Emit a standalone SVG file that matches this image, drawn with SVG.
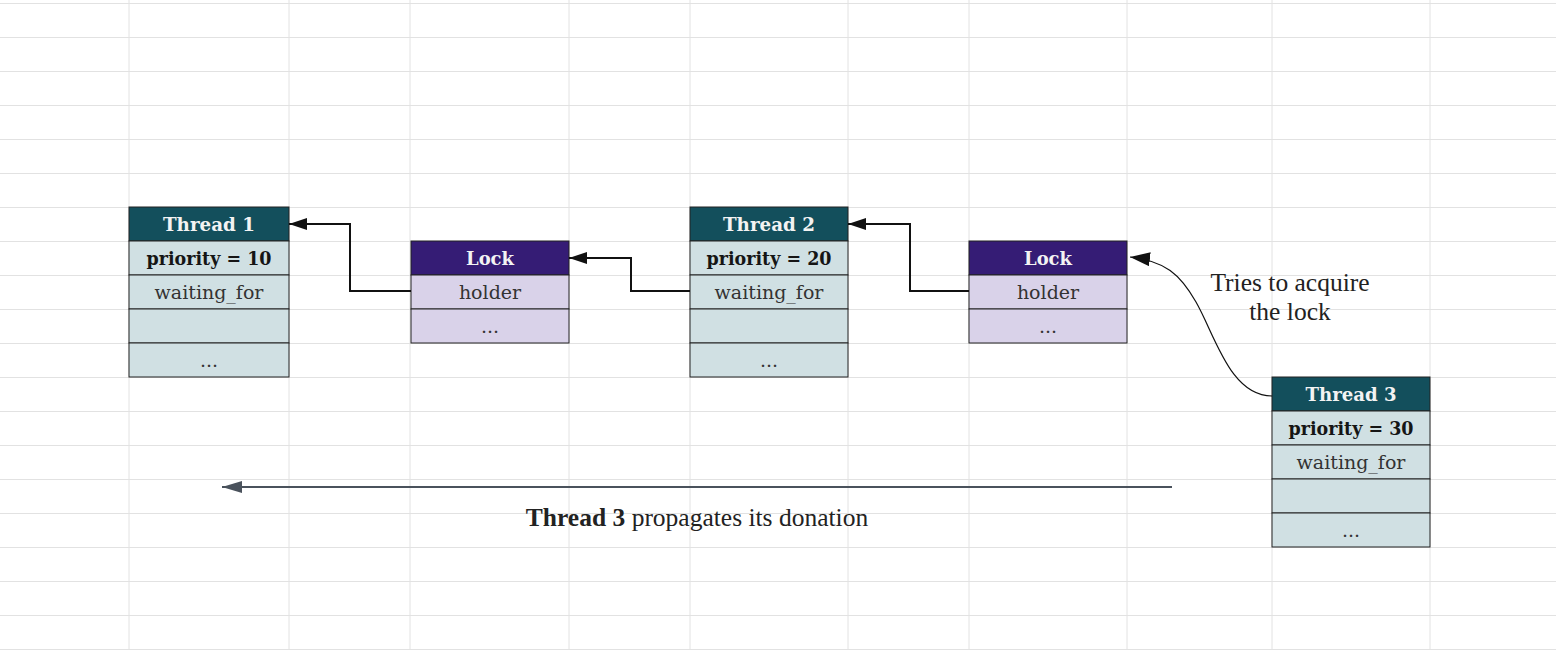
<svg xmlns="http://www.w3.org/2000/svg" width="1556" height="650" viewBox="0 0 1556 650">
<style>
.grid line{stroke:#e2e2e2;stroke-width:1}
.th{fill:#134f5c;stroke:#222;stroke-width:1}
.tr{fill:#d0e0e3;stroke:#222;stroke-width:1}
.lh{fill:#351c75;stroke:#222;stroke-width:1}
.lr{fill:#d9d2e9;stroke:#222;stroke-width:1}
.hd{font-family:"DejaVu Serif",serif;font-weight:bold;font-size:18px;fill:#f3f3f3;text-anchor:middle}
.pr{font-family:"DejaVu Serif",serif;font-weight:bold;font-size:18px;fill:#151515;text-anchor:middle}
.tx{font-family:"DejaVu Serif",serif;font-size:19px;fill:#333;text-anchor:middle}
.gar{font-family:"Liberation Serif",serif;font-size:25.5px;fill:#222;text-anchor:middle}
.conn{fill:none;stroke:#111;stroke-width:2}
</style>
<defs>
<marker id="ah" viewBox="0 0 18 12" refX="18" refY="6" markerWidth="18" markerHeight="12" markerUnits="userSpaceOnUse" orient="auto"><path d="M0,0 L18,6 L0,12 z" fill="#111"/></marker>
<marker id="ahc" viewBox="0 0 20 14" refX="20" refY="7" markerWidth="20" markerHeight="14" markerUnits="userSpaceOnUse" orient="auto"><path d="M0,0 L20,7 L0,14 z" fill="#111"/></marker>
<marker id="ahg" viewBox="0 0 20 12" refX="20" refY="6" markerWidth="20" markerHeight="12" markerUnits="userSpaceOnUse" orient="auto"><path d="M0,0 L20,6 L0,12 z" fill="#4a525c"/></marker>
</defs>
<rect width="1556" height="650" fill="#fff"/>
<g class="grid">
<line x1="0" y1="3.5" x2="1556" y2="3.5"/><line x1="0" y1="37.5" x2="1556" y2="37.5"/><line x1="0" y1="71.5" x2="1556" y2="71.5"/><line x1="0" y1="105.5" x2="1556" y2="105.5"/><line x1="0" y1="139.5" x2="1556" y2="139.5"/><line x1="0" y1="173.5" x2="1556" y2="173.5"/><line x1="0" y1="207.5" x2="1556" y2="207.5"/><line x1="0" y1="241.5" x2="1556" y2="241.5"/><line x1="0" y1="275.5" x2="1556" y2="275.5"/><line x1="0" y1="309.5" x2="1556" y2="309.5"/><line x1="0" y1="343.5" x2="1556" y2="343.5"/><line x1="0" y1="377.5" x2="1556" y2="377.5"/><line x1="0" y1="411.5" x2="1556" y2="411.5"/><line x1="0" y1="445.5" x2="1556" y2="445.5"/><line x1="0" y1="479.5" x2="1556" y2="479.5"/><line x1="0" y1="513.5" x2="1556" y2="513.5"/><line x1="0" y1="547.5" x2="1556" y2="547.5"/><line x1="0" y1="581.5" x2="1556" y2="581.5"/><line x1="0" y1="615.5" x2="1556" y2="615.5"/><line x1="0" y1="649.5" x2="1556" y2="649.5"/>
<line x1="129" y1="0" x2="129" y2="650"/><line x1="289" y1="0" x2="289" y2="650"/><line x1="410" y1="0" x2="410" y2="650"/><line x1="569" y1="0" x2="569" y2="650"/><line x1="690" y1="0" x2="690" y2="650"/><line x1="848" y1="0" x2="848" y2="650"/><line x1="969" y1="0" x2="969" y2="650"/><line x1="1127" y1="0" x2="1127" y2="650"/><line x1="1272" y1="0" x2="1272" y2="650"/><line x1="1430" y1="0" x2="1430" y2="650"/>
</g>
<g id="thread1">
<rect class="th" x="129" y="207" width="160" height="34"/>
<rect class="tr" x="129" y="241" width="160" height="34"/>
<rect class="tr" x="129" y="275" width="160" height="34"/>
<rect class="tr" x="129" y="309" width="160" height="34"/>
<rect class="tr" x="129" y="343" width="160" height="34"/>
<text class="hd" x="209" y="231" textLength="92" lengthAdjust="spacingAndGlyphs">Thread 1</text>
<text class="pr" x="209" y="265" textLength="125" lengthAdjust="spacingAndGlyphs">priority = 10</text>
<text class="tx" x="209" y="299">waiting_for</text>
<text class="tx" x="209" y="367">...</text>
</g>
<g id="lock1">
<rect class="lh" x="411" y="241" width="158" height="34"/>
<rect class="lr" x="411" y="275" width="158" height="34"/>
<rect class="lr" x="411" y="309" width="158" height="34"/>
<text class="hd" x="490" y="265" textLength="48" lengthAdjust="spacingAndGlyphs">Lock</text>
<text class="tx" x="490" y="299">holder</text>
<text class="tx" x="490" y="333">...</text>
</g>
<g id="thread2">
<rect class="th" x="690" y="207" width="158" height="34"/>
<rect class="tr" x="690" y="241" width="158" height="34"/>
<rect class="tr" x="690" y="275" width="158" height="34"/>
<rect class="tr" x="690" y="309" width="158" height="34"/>
<rect class="tr" x="690" y="343" width="158" height="34"/>
<text class="hd" x="769" y="231" textLength="92" lengthAdjust="spacingAndGlyphs">Thread 2</text>
<text class="pr" x="769" y="265" textLength="125" lengthAdjust="spacingAndGlyphs">priority = 20</text>
<text class="tx" x="769" y="299">waiting_for</text>
<text class="tx" x="769" y="367">...</text>
</g>
<g id="lock2">
<rect class="lh" x="969" y="241" width="158" height="34"/>
<rect class="lr" x="969" y="275" width="158" height="34"/>
<rect class="lr" x="969" y="309" width="158" height="34"/>
<text class="hd" x="1048" y="265" textLength="48" lengthAdjust="spacingAndGlyphs">Lock</text>
<text class="tx" x="1048" y="299">holder</text>
<text class="tx" x="1048" y="333">...</text>
</g>
<g id="thread3">
<rect class="th" x="1272" y="377" width="158" height="34"/>
<rect class="tr" x="1272" y="411" width="158" height="34"/>
<rect class="tr" x="1272" y="445" width="158" height="34"/>
<rect class="tr" x="1272" y="479" width="158" height="34"/>
<rect class="tr" x="1272" y="513" width="158" height="34"/>
<text class="hd" x="1351" y="401" textLength="91" lengthAdjust="spacingAndGlyphs">Thread 3</text>
<text class="pr" x="1351" y="435" textLength="125" lengthAdjust="spacingAndGlyphs">priority = 30</text>
<text class="tx" x="1351" y="469">waiting_for</text>
<text class="tx" x="1351" y="537">...</text>
</g>
<g id="connectors">
<path class="conn" d="M411,291 H350 V224 H289" marker-end="url(#ah)"/>
<path class="conn" d="M690,291 H631 V258 H569" marker-end="url(#ah)"/>
<path class="conn" d="M969,291 H910 V224 H848" marker-end="url(#ah)"/>
<path d="M1272,396 C1230,396 1215,335 1196,302 C1180,274 1165,261 1130,257" fill="none" stroke="#111" stroke-width="1.2" marker-end="url(#ahc)"/>
<path d="M1172,487 H222" fill="none" stroke="#4a525c" stroke-width="2" marker-end="url(#ahg)"/>
</g>
<g id="labels">
<text class="gar" x="1290" y="291">Tries to acquire</text>
<text class="gar" x="1290" y="320">the lock</text>
<text class="gar" x="697" y="526"><tspan font-weight="bold">Thread 3</tspan> propagates its donation</text>
</g>
</svg>
